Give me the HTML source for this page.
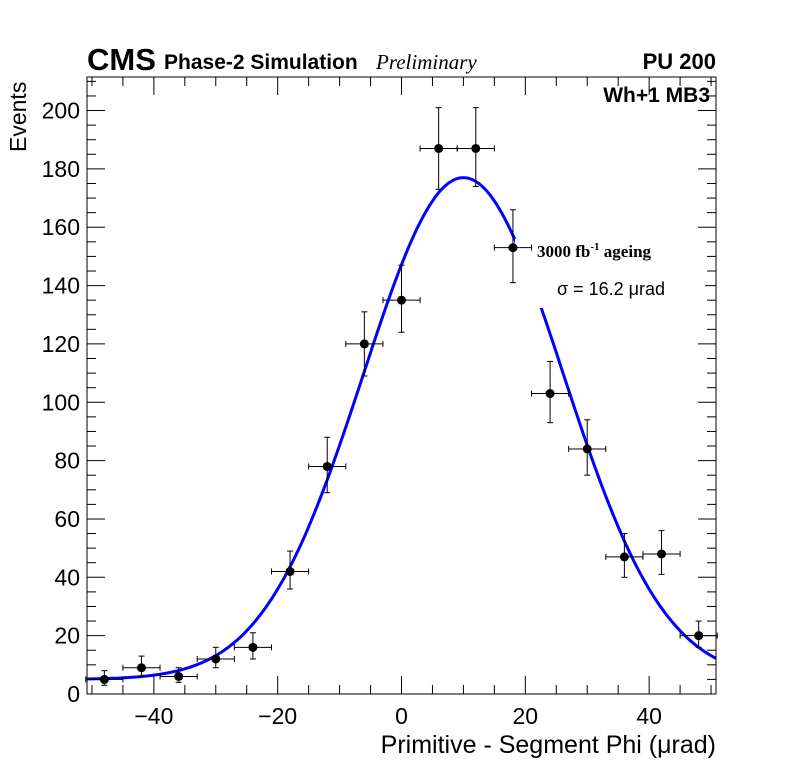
<!DOCTYPE html>
<html><head><meta charset="utf-8"><style>
body{margin:0;background:#fff;}
svg text{font-family:"Liberation Sans",sans-serif;}
</style></head><body>
<svg id="chart" width="796" height="772" xmlns="http://www.w3.org/2000/svg">
<rect width="796" height="772" fill="#fff"/>
<g id="ticks"></g>
<path id="fit" fill="none" stroke="#0000ff" stroke-width="3"/>
<rect x="515" y="239" width="190" height="69" fill="#fff"/>
<g id="points"></g>
<rect x="87" y="77" width="629" height="617" fill="none" stroke="#000" stroke-width="1"/>
<g id="labels"></g>
<text x="87" y="70" font-size="31" font-weight="bold">CMS</text>
<text x="164" y="69" font-size="21" font-weight="bold">Phase-2 Simulation</text>
<text x="376" y="69" font-size="21" font-style="italic" style="font-family:'Liberation Serif',serif">Preliminary</text>
<text x="716" y="69" font-size="22" font-weight="bold" text-anchor="end">PU 200</text>
<text x="710" y="102" font-size="21" font-weight="bold" text-anchor="end">Wh+1 MB3</text>
<text x="537" y="257" font-size="17" font-weight="bold" style="font-family:'Liberation Serif',serif">3000 fb<tspan dy="-7" font-size="11">-1</tspan><tspan dy="7"> ageing</tspan></text>
<text x="557" y="295" font-size="18">σ = 16.2 μrad</text>
<text x="716" y="753" font-size="25" text-anchor="end">Primitive - Segment Phi (μrad)</text>
<text transform="translate(26,152) rotate(-90)" font-size="23" text-anchor="start">Events</text>
</svg>
<script>
const xCenters=[-48,-42,-36,-30,-24,-18,-12,-6,0,6,12,18,24,30,36,42,48];
const counts=[5,9,6,12,16,42,78,120,135,187,187,153,103,84,47,48,20];
const errHi=[3,4,3,4,5,7,10,11,12,14,14,13,11,10,8,8,5];
const errLo=[2,3,2,3,4,6,9,11,11,14,13,12,10,9,7,7,4];
const fitParams=[172,10,16.2,5]; // amplitude, mean, sigma, constant
const xTicks=[-40,-20,0,20,40];
const yTicks=[0,20,40,60,80,100,120,140,160,180,200];
const X0=87,X1=716,Y0=694,Y1=77,XMIN=-50.8,XMAX=50.8,YMIN=0,YMAX=211.5;
const sx=v=>X0+(v-XMIN)/(XMAX-XMIN)*(X1-X0);
const sy=v=>Y0-(v-YMIN)/(YMAX-YMIN)*(Y0-Y1);
const NS="http://www.w3.org/2000/svg";
function mk(t,a,p){const e=document.createElementNS(NS,t);for(const k in a)e.setAttribute(k,a[k]);p.appendChild(e);return e;}
const tg=document.getElementById('ticks'),lg=document.getElementById('labels');
for(let v=-50;v<=50;v+=5){const big=v%20===0;const L=big?18:9;const x=sx(v);
 mk('line',{x1:x,y1:Y0,x2:x,y2:Y0-L,stroke:'#000'},tg);mk('line',{x1:x,y1:Y1,x2:x,y2:Y1+L,stroke:'#000'},tg);}
for(let v=0;v<=210;v+=5){const big=v%20===0;const L=big?18:9;const y=sy(v);
 mk('line',{x1:X0,y1:y,x2:X0+L,y2:y,stroke:'#000'},tg);mk('line',{x1:X1,y1:y,x2:X1-L,y2:y,stroke:'#000'},tg);}
xTicks.forEach(v=>{const t=mk('text',{x:sx(v),y:724,'font-size':23,'text-anchor':'middle'},lg);
 
 
 t.textContent=v<0?'\u2212'+(-v):String(v);});
yTicks.forEach(v=>{const t=mk('text',{x:80,y:sy(v)+8,'font-size':23,'text-anchor':'end'},lg);
 
 
 t.textContent=String(v);});
let d='';for(let i=0;i<=300;i++){const x=XMIN+(XMAX-XMIN)*i/300;const[A,m,s,c]=fitParams;
 const y=A*Math.exp(-(x-m)*(x-m)/(2*s*s))+c;d+=(i?'L':'M')+sx(x).toFixed(1)+' '+sy(y).toFixed(1);}
document.getElementById('fit').setAttribute('d',d);
const pg=document.getElementById('points');
xCenters.forEach((xc,i)=>{const g=mk('g',{},pg);
 
 
 const x=sx(xc),y=sy(counts[i]),xl=sx(xc-3),xr=sx(xc+3),yt=sy(counts[i]+errHi[i]),yb=sy(counts[i]-errLo[i]);
 mk('line',{x1:xl,y1:y,x2:xr,y2:y,stroke:'#000'},g);
 mk('line',{x1:x,y1:yt,x2:x,y2:yb,stroke:'#000'},g);
 mk('line',{x1:xl,y1:y-3,x2:xl,y2:y+3,stroke:'#000'},g);
 mk('line',{x1:xr,y1:y-3,x2:xr,y2:y+3,stroke:'#000'},g);
 mk('line',{x1:x-3,y1:yt,x2:x+3,y2:yt,stroke:'#000'},g);
 mk('line',{x1:x-3,y1:yb,x2:x+3,y2:yb,stroke:'#000'},g);
 mk('circle',{cx:x,cy:y,r:4.5,fill:'#000'},g);});
</script>
</body></html>
